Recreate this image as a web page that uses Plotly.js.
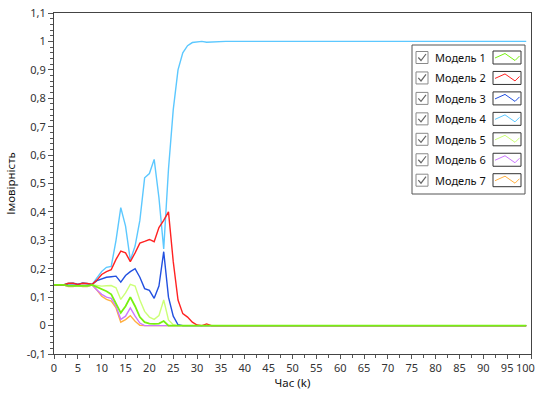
<!DOCTYPE html>
<html>
<head>
<meta charset="utf-8">
<script src="https://cdn.plot.ly/plotly-3.0.1.min.js"></script>
<style>
  html, body { margin: 0; padding: 0; background: #ffffff; }
  #chart { width: 536px; height: 394px; }
</style>
</head>
<body>
<div id="chart"></div>
<script>
// ---- DATA ----
const steps = [];
for (let k = 0; k < 100; k++) steps.push(k);

const modelNames = ["Модель 1", "Модель 2", "Модель 3", "Модель 4", "Модель 5", "Модель 6", "Модель 7"];
const modelColors = ["#77f011", "#ff2222", "#2250e0", "#5cc8ff", "#ccff77", "#cc77ff", "#ffb040"];

const model1 = [
  0.143,0.143,0.143,0.140,0.140,0.142,0.140,0.140,0.143,0.135,
  0.127,0.121,0.110,0.080,0.045,0.068,0.100,0.068,0.030,0.012,
  0.007,0.006,0.007,0.016,0,0,0,0,0,0,
  0,0,0,0,0,0,0,0,0,0,
  0,0,0,0,0,0,0,0,0,0,
  0,0,0,0,0,0,0,0,0,0,
  0,0,0,0,0,0,0,0,0,0,
  0,0,0,0,0,0,0,0,0,0,
  0,0,0,0,0,0,0,0,0,0,
  0,0,0,0,0,0,0,0,0,0
];
const model2 = [
  0.143,0.143,0.143,0.149,0.149,0.145,0.149,0.148,0.145,0.160,
  0.180,0.190,0.197,0.233,0.262,0.256,0.225,0.256,0.290,0.296,
  0.303,0.295,0.345,0.370,0.400,0.225,0.090,0.042,0.030,0.012,
  0.002,0,0.006,0,0,0,0,0,0,0,
  0,0,0,0,0,0,0,0,0,0,
  0,0,0,0,0,0,0,0,0,0,
  0,0,0,0,0,0,0,0,0,0,
  0,0,0,0,0,0,0,0,0,0,
  0,0,0,0,0,0,0,0,0,0,
  0,0,0,0,0,0,0,0,0,0
];
const model3 = [
  0.143,0.143,0.143,0.147,0.148,0.145,0.149,0.147,0.145,0.158,
  0.165,0.170,0.172,0.174,0.153,0.176,0.190,0.200,0.170,0.130,
  0.124,0.096,0.139,0.260,0.100,0.033,0.003,0,0,0,
  0,0,0,0,0,0,0,0,0,0,
  0,0,0,0,0,0,0,0,0,0,
  0,0,0,0,0,0,0,0,0,0,
  0,0,0,0,0,0,0,0,0,0,
  0,0,0,0,0,0,0,0,0,0,
  0,0,0,0,0,0,0,0,0,0,
  0,0,0,0,0,0,0,0,0,0
];
const model4 = [
  0.143,0.143,0.143,0.149,0.150,0.146,0.150,0.148,0.145,0.168,
  0.190,0.205,0.208,0.300,0.415,0.350,0.230,0.280,0.370,0.520,
  0.535,0.585,0.450,0.270,0.550,0.760,0.900,0.960,0.985,0.996,
  0.999,1,0.997,0.998,1,1,1,1,1,1,
  1,1,1,1,1,1,1,1,1,1,
  1,1,1,1,1,1,1,1,1,1,
  1,1,1,1,1,1,1,1,1,1,
  1,1,1,1,1,1,1,1,1,1,
  1,1,1,1,1,1,1,1,1,1,
  1,1,1,1,1,1,1,1,1,1
];
const model5 = [
  0.143,0.143,0.143,0.141,0.141,0.142,0.141,0.140,0.143,0.141,
  0.139,0.140,0.141,0.133,0.092,0.115,0.145,0.139,0.090,0.050,
  0.030,0.022,0.035,0.090,0.020,0.003,0,0,0,0,
  0,0,0,0,0,0,0,0,0,0,
  0,0,0,0,0,0,0,0,0,0,
  0,0,0,0,0,0,0,0,0,0,
  0,0,0,0,0,0,0,0,0,0,
  0,0,0,0,0,0,0,0,0,0,
  0,0,0,0,0,0,0,0,0,0,
  0,0,0,0,0,0,0,0,0,0
];
const model6 = [
  0.143,0.143,0.143,0.139,0.139,0.142,0.139,0.139,0.143,0.125,
  0.110,0.100,0.096,0.068,0.022,0.033,0.062,0.033,0.009,0,
  0,0,0,0,0,0,0,0,0,0,
  0,0,0,0,0,0,0,0,0,0,
  0,0,0,0,0,0,0,0,0,0,
  0,0,0,0,0,0,0,0,0,0,
  0,0,0,0,0,0,0,0,0,0,
  0,0,0,0,0,0,0,0,0,0,
  0,0,0,0,0,0,0,0,0,0,
  0,0,0,0,0,0,0,0,0,0
];
const model7 = [
  0.143,0.143,0.143,0.137,0.137,0.141,0.137,0.137,0.143,0.125,
  0.103,0.092,0.086,0.062,0.012,0.021,0.035,0.015,0.001,0,
  0,0,0,0,0,0,0,0,0,0,
  0,0,0,0,0,0,0,0,0,0,
  0,0,0,0,0,0,0,0,0,0,
  0,0,0,0,0,0,0,0,0,0,
  0,0,0,0,0,0,0,0,0,0,
  0,0,0,0,0,0,0,0,0,0,
  0,0,0,0,0,0,0,0,0,0,
  0,0,0,0,0,0,0,0,0,0
];
const modelValues = [model1, model2, model3, model4, model5, model6, model7];

const yTickVals = [-0.1, 0, 0.1, 0.2, 0.3, 0.4, 0.5, 0.6, 0.7, 0.8, 0.9, 1, 1.1];
const yTickText = ["-0,1", "0", "0,1", "0,2", "0,3", "0,4", "0,5", "0,6", "0,7", "0,8", "0,9", "1", "1,1"];
const xTickVals = [0,5,10,15,20,25,30,35,40,45,50,55,60,65,70,75,80,85,90,95,100];
const xTickText = ["0","5","10","15","20","25","30","35","40","45","50","55","60","65","70","75","80","85","90","95","100"];

// ---- LAYOUT HELPERS ----
const W = 536, H = 394;
const M = { l: 54, r: 5, t: 13, b: 40 };
const plotW = W - M.l - M.r, plotH = H - M.t - M.b;
const px = x => (x - M.l) / plotW;
const py = y => (H - M.b - y) / plotH;

// traces drawn in reverse so Model 1 ends on top
const traces = [];
for (let i = modelNames.length - 1; i >= 0; i--) {
  traces.push({
    x: steps, y: modelValues[i], type: "scatter", mode: "lines",
    name: modelNames[i], showlegend: false,
    line: { color: modelColors[i], width: i === 0 ? 1.8 : 1.4 },
    hoverinfo: "skip"
  });
}

// custom legend (checkbox, label, framed zigzag swatch)
const shapes = [];
const annotations = [];
const legL = 412, legR = 525, legT = 45, legB = 194;
shapes.push({ type: "rect", xref: "paper", yref: "paper",
  x0: px(legL), x1: px(legR), y0: py(legB), y1: py(legT),
  line: { color: "#555555", width: 1 }, fillcolor: "#ffffff", layer: "above" });
const rowStep = 20.45, row0 = 57.5;
for (let i = 0; i < modelNames.length; i++) {
  const cy = row0 + i * rowStep;
  shapes.push({ type: "rect", xref: "paper", yref: "paper",
    x0: px(416), x1: px(428), y0: py(cy + 6), y1: py(cy - 6),
    line: { color: "#8a8a8a", width: 1 }, fillcolor: "#ffffff", layer: "above" });
  shapes.push({ type: "path", xref: "paper", yref: "paper", layer: "above",
    path: "M " + px(418.3) + "," + py(cy) + " L " + px(421) + "," + py(cy + 3) + " L " + px(426) + "," + py(cy - 3.5),
    line: { color: "#666666", width: 1.2 } });
  shapes.push({ type: "rect", xref: "paper", yref: "paper",
    x0: px(493), x1: px(521), y0: py(cy + 6.5), y1: py(cy - 6.5),
    line: { color: "#333333", width: 1 }, fillcolor: "#ffffff", layer: "above" });
  shapes.push({ type: "path", xref: "paper", yref: "paper", layer: "above",
    path: "M " + px(495) + "," + py(cy + 0.5) + " L " + px(505) + "," + py(cy - 4) +
          " L " + px(515) + "," + py(cy + 3) + " L " + px(519.5) + "," + py(cy - 1.5),
    line: { color: modelColors[i], width: 1 } });
  annotations.push({ xref: "paper", yref: "paper", x: px(432.5), y: py(cy),
    xanchor: "left", yanchor: "middle", text: modelNames[i], showarrow: false,
    font: { family: "Noto Sans, Open Sans, sans-serif", size: 11, color: "#111111" } });
}

const axisFont = { family: "Noto Sans, Open Sans, sans-serif", size: 11, color: "#333333" };

// last x tick label kept fully inside the picture (right-aligned at the edge)
const lastIdx = xTickText.length - 1;
const shownXTickText = xTickText.map((t, i) => i === lastIdx ? "" : t);
annotations.push({ xref: "paper", yref: "paper", x: px(535.5), y: py(367),
  xanchor: "right", yanchor: "middle", text: xTickText[lastIdx], showarrow: false,
  borderpad: 0, font: axisFont });

const layout = {
  width: W, height: H,
  margin: M,
  paper_bgcolor: "#ffffff", plot_bgcolor: "#ffffff",
  showlegend: false,
  xaxis: {
    range: [0, 100], tickmode: "array", tickvals: xTickVals, ticktext: shownXTickText,
    ticks: "outside", ticklen: 4, tickwidth: 1, tickcolor: "#555555",
    minor: { tickmode: "linear", tick0: 0, dtick: 2.5, ticks: "outside", ticklen: 3, tickcolor: "#555555", showgrid: false },
    showgrid: false, zeroline: false,
    showline: true, linecolor: "#444444", linewidth: 1, mirror: true,
    tickfont: axisFont, ticklabeloverflow: "allow",
    title: { text: "Час (k)", font: { family: "Noto Sans, Open Sans, sans-serif", size: 11.5, color: "#111111" }, standoff: 4 },
    automargin: false
  },
  yaxis: {
    range: [-0.1, 1.1], tickmode: "array", tickvals: yTickVals, ticktext: yTickText,
    ticks: "outside", ticklen: 5, tickwidth: 1, tickcolor: "#555555",
    minor: { tickmode: "linear", tick0: 0, dtick: 0.02, ticks: "outside", ticklen: 3, tickcolor: "#555555", showgrid: false },
    showgrid: false, zeroline: false,
    showline: true, linecolor: "#444444", linewidth: 1, mirror: true,
    tickfont: axisFont, ticklabeloverflow: "allow",
    title: { text: "Імовірність", font: { family: "Noto Sans, Open Sans, sans-serif", size: 11.5, color: "#111111" }, standoff: 8 },
    automargin: false
  },
  shapes: shapes,
  annotations: annotations
};

Plotly.newPlot("chart", traces, layout, { staticPlot: true, displayModeBar: false });
</script>
</body>
</html>
